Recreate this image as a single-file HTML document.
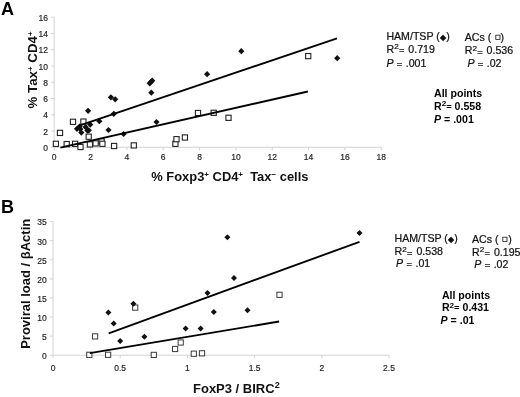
<!DOCTYPE html>
<html><head><meta charset="utf-8"><title>Figure</title>
<style>
html,body{margin:0;padding:0;background:#fff;}
body{width:520px;height:397px;overflow:hidden;}
svg{display:block;}
text{font-family:"Liberation Sans", sans-serif;}
.t{font-size:8.5px;fill:#262626;stroke:#262626;stroke-width:0.18px;}
.ti{font-size:13px;font-weight:bold;fill:#111;}
.sup{font-size:8px;}
.sup2{font-size:9px;}
.tA{font-size:13.3px;}
.tX{font-size:12.9px;}
.pl{font-size:18px;font-weight:bold;fill:#000;}
.lg{font-size:10.6px;fill:#111;stroke:#111;stroke-width:0.22px;}
.sym{font-size:8px;}
.sym2{font-size:6.6px;stroke:#333;stroke-width:0.35px;}
.lb{font-size:10.6px;font-weight:bold;fill:#000;}
.s2{font-size:8.1px;}
.eq{font-size:9.4px;}
</style></head>
<body>
<svg width="520" height="397" viewBox="0 0 520 397">
<rect width="520" height="397" fill="#fff"/>
<line x1="54.2" y1="17.2" x2="54.2" y2="147.3" stroke="#d2d2d2" stroke-width="1"/>
<line x1="54.2" y1="147.3" x2="381.3" y2="147.3" stroke="#d2d2d2" stroke-width="1"/>
<line x1="51.2" y1="147.3" x2="54.2" y2="147.3" stroke="#d2d2d2" stroke-width="1"/>
<text x="47.9" y="150.9" text-anchor="end" class="t">0</text>
<line x1="51.2" y1="131.0" x2="54.2" y2="131.0" stroke="#d2d2d2" stroke-width="1"/>
<text x="47.9" y="134.6" text-anchor="end" class="t">2</text>
<line x1="51.2" y1="114.8" x2="54.2" y2="114.8" stroke="#d2d2d2" stroke-width="1"/>
<text x="47.9" y="118.4" text-anchor="end" class="t">4</text>
<line x1="51.2" y1="98.5" x2="54.2" y2="98.5" stroke="#d2d2d2" stroke-width="1"/>
<text x="47.9" y="102.1" text-anchor="end" class="t">6</text>
<line x1="51.2" y1="82.3" x2="54.2" y2="82.3" stroke="#d2d2d2" stroke-width="1"/>
<text x="47.9" y="85.9" text-anchor="end" class="t">8</text>
<line x1="51.2" y1="66.0" x2="54.2" y2="66.0" stroke="#d2d2d2" stroke-width="1"/>
<text x="47.9" y="69.6" text-anchor="end" class="t">10</text>
<line x1="51.2" y1="49.7" x2="54.2" y2="49.7" stroke="#d2d2d2" stroke-width="1"/>
<text x="47.9" y="53.3" text-anchor="end" class="t">12</text>
<line x1="51.2" y1="33.5" x2="54.2" y2="33.5" stroke="#d2d2d2" stroke-width="1"/>
<text x="47.9" y="37.1" text-anchor="end" class="t">14</text>
<line x1="51.2" y1="17.2" x2="54.2" y2="17.2" stroke="#d2d2d2" stroke-width="1"/>
<text x="47.9" y="20.8" text-anchor="end" class="t">16</text>
<line x1="54.2" y1="147.3" x2="54.2" y2="150.3" stroke="#d2d2d2" stroke-width="1"/>
<text x="54.2" y="160.3" text-anchor="middle" class="t">0</text>
<line x1="90.5" y1="147.3" x2="90.5" y2="150.3" stroke="#d2d2d2" stroke-width="1"/>
<text x="90.5" y="160.3" text-anchor="middle" class="t">2</text>
<line x1="126.9" y1="147.3" x2="126.9" y2="150.3" stroke="#d2d2d2" stroke-width="1"/>
<text x="126.9" y="160.3" text-anchor="middle" class="t">4</text>
<line x1="163.2" y1="147.3" x2="163.2" y2="150.3" stroke="#d2d2d2" stroke-width="1"/>
<text x="163.2" y="160.3" text-anchor="middle" class="t">6</text>
<line x1="199.6" y1="147.3" x2="199.6" y2="150.3" stroke="#d2d2d2" stroke-width="1"/>
<text x="199.6" y="160.3" text-anchor="middle" class="t">8</text>
<line x1="235.9" y1="147.3" x2="235.9" y2="150.3" stroke="#d2d2d2" stroke-width="1"/>
<text x="235.9" y="160.3" text-anchor="middle" class="t">10</text>
<line x1="272.2" y1="147.3" x2="272.2" y2="150.3" stroke="#d2d2d2" stroke-width="1"/>
<text x="272.2" y="160.3" text-anchor="middle" class="t">12</text>
<line x1="308.6" y1="147.3" x2="308.6" y2="150.3" stroke="#d2d2d2" stroke-width="1"/>
<text x="308.6" y="160.3" text-anchor="middle" class="t">14</text>
<line x1="344.9" y1="147.3" x2="344.9" y2="150.3" stroke="#d2d2d2" stroke-width="1"/>
<text x="344.9" y="160.3" text-anchor="middle" class="t">16</text>
<line x1="381.3" y1="147.3" x2="381.3" y2="150.3" stroke="#d2d2d2" stroke-width="1"/>
<text x="381.3" y="160.3" text-anchor="middle" class="t">18</text>
<rect x="53.3" y="141.2" width="5.2" height="5.2" fill="#fff" stroke="#222" stroke-width="1.1"/>
<rect x="57.4" y="130.3" width="5.2" height="5.2" fill="#fff" stroke="#222" stroke-width="1.1"/>
<rect x="64.1" y="141.5" width="5.2" height="5.2" fill="#fff" stroke="#222" stroke-width="1.1"/>
<rect x="70.4" y="119.2" width="5.2" height="5.2" fill="#fff" stroke="#222" stroke-width="1.1"/>
<rect x="72.5" y="141.2" width="5.2" height="5.2" fill="#fff" stroke="#222" stroke-width="1.1"/>
<rect x="77.9" y="144.4" width="5.2" height="5.2" fill="#fff" stroke="#222" stroke-width="1.1"/>
<rect x="80.8" y="119.0" width="5.2" height="5.2" fill="#fff" stroke="#222" stroke-width="1.1"/>
<rect x="86.1" y="134.1" width="5.2" height="5.2" fill="#fff" stroke="#222" stroke-width="1.1"/>
<rect x="87.3" y="141.8" width="5.2" height="5.2" fill="#fff" stroke="#222" stroke-width="1.1"/>
<rect x="93.0" y="140.8" width="5.2" height="5.2" fill="#fff" stroke="#222" stroke-width="1.1"/>
<rect x="99.0" y="138.8" width="5.2" height="5.2" fill="#fff" stroke="#222" stroke-width="1.1"/>
<rect x="99.8" y="141.2" width="5.2" height="5.2" fill="#fff" stroke="#222" stroke-width="1.1"/>
<rect x="111.5" y="143.4" width="5.2" height="5.2" fill="#fff" stroke="#222" stroke-width="1.1"/>
<rect x="131.2" y="142.8" width="5.2" height="5.2" fill="#fff" stroke="#222" stroke-width="1.1"/>
<rect x="172.8" y="141.2" width="5.2" height="5.2" fill="#fff" stroke="#222" stroke-width="1.1"/>
<rect x="173.9" y="136.6" width="5.2" height="5.2" fill="#fff" stroke="#222" stroke-width="1.1"/>
<rect x="182.3" y="134.9" width="5.2" height="5.2" fill="#fff" stroke="#222" stroke-width="1.1"/>
<rect x="195.4" y="110.4" width="5.2" height="5.2" fill="#fff" stroke="#222" stroke-width="1.1"/>
<rect x="211.1" y="110.2" width="5.2" height="5.2" fill="#fff" stroke="#222" stroke-width="1.1"/>
<rect x="225.9" y="115.2" width="5.2" height="5.2" fill="#fff" stroke="#222" stroke-width="1.1"/>
<rect x="305.6" y="53.5" width="5.2" height="5.2" fill="#fff" stroke="#222" stroke-width="1.1"/>
<path d="M77.0 125.7L80.1 128.8L77.0 131.9L73.9 128.8Z" fill="#111"/>
<path d="M79.6 123.5L82.7 126.6L79.6 129.7L76.5 126.6Z" fill="#111"/>
<path d="M80.3 126.0L83.4 129.1L80.3 132.2L77.2 129.1Z" fill="#111"/>
<path d="M81.3 129.5L84.4 132.6L81.3 135.7L78.2 132.6Z" fill="#111"/>
<path d="M85.6 124.0L88.7 127.1L85.6 130.2L82.5 127.1Z" fill="#111"/>
<path d="M87.4 127.5L90.5 130.6L87.4 133.7L84.3 130.6Z" fill="#111"/>
<path d="M90.2 121.5L93.3 124.6L90.2 127.7L87.1 124.6Z" fill="#111"/>
<path d="M88.8 127.2L91.9 130.3L88.8 133.4L85.7 130.3Z" fill="#111"/>
<path d="M88.1 107.7L91.2 110.8L88.1 113.9L85.0 110.8Z" fill="#111"/>
<path d="M99.3 118.1L102.4 121.2L99.3 124.3L96.2 121.2Z" fill="#111"/>
<path d="M108.5 126.9L111.6 130.0L108.5 133.1L105.4 130.0Z" fill="#111"/>
<path d="M110.9 94.2L114.0 97.3L110.9 100.4L107.8 97.3Z" fill="#111"/>
<path d="M115.2 96.2L118.3 99.3L115.2 102.4L112.1 99.3Z" fill="#111"/>
<path d="M113.8 110.7L116.9 113.8L113.8 116.9L110.7 113.8Z" fill="#111"/>
<path d="M123.6 130.9L126.7 134.0L123.6 137.1L120.5 134.0Z" fill="#111"/>
<path d="M149.7 80.2L152.8 83.3L149.7 86.4L146.6 83.3Z" fill="#111"/>
<path d="M150.9 78.9L154.0 82.0L150.9 85.1L147.8 82.0Z" fill="#111"/>
<path d="M152.2 77.6L155.3 80.7L152.2 83.8L149.1 80.7Z" fill="#111"/>
<path d="M151.3 89.6L154.4 92.7L151.3 95.8L148.2 92.7Z" fill="#111"/>
<path d="M156.5 118.9L159.6 122.0L156.5 125.1L153.4 122.0Z" fill="#111"/>
<path d="M207.1 71.1L210.2 74.2L207.1 77.3L204.0 74.2Z" fill="#111"/>
<path d="M241.3 48.1L244.4 51.2L241.3 54.3L238.2 51.2Z" fill="#111"/>
<path d="M337.2 55.1L340.3 58.2L337.2 61.3L334.1 58.2Z" fill="#111"/>
<line x1="60.4" y1="147.7" x2="307.9" y2="91.5" stroke="#000" stroke-width="1.85"/>
<line x1="78.5" y1="125.9" x2="337" y2="38.3" stroke="#000" stroke-width="1.85"/>
<text x="151.3" y="180.9" class="ti tX">% Foxp3<tspan class="sup" dy="-4.2">+</tspan><tspan dy="4.2"> CD4</tspan><tspan class="sup" dy="-4.2">+</tspan><tspan x="250.2" dy="4.2">Tax</tspan><tspan class="sup" dy="-4.2">−</tspan><tspan dy="4.2"> cells</tspan></text>
<text transform="translate(37.0 108.5) rotate(-90)" x="0" y="0" class="ti tA">% Tax<tspan class="sup" dy="-4.2">+</tspan><tspan dy="4.2"> CD4</tspan><tspan class="sup" dy="-4.2">+</tspan></text>
<line x1="53.0" y1="221.6" x2="53.0" y2="355.2" stroke="#d2d2d2" stroke-width="1"/>
<line x1="53.0" y1="355.2" x2="389.0" y2="355.2" stroke="#d2d2d2" stroke-width="1"/>
<line x1="50.0" y1="355.2" x2="53.0" y2="355.2" stroke="#d2d2d2" stroke-width="1"/>
<text x="46.8" y="359.0" text-anchor="end" class="t">0</text>
<line x1="50.0" y1="336.1" x2="53.0" y2="336.1" stroke="#d2d2d2" stroke-width="1"/>
<text x="46.8" y="339.9" text-anchor="end" class="t">5</text>
<line x1="50.0" y1="317.0" x2="53.0" y2="317.0" stroke="#d2d2d2" stroke-width="1"/>
<text x="46.8" y="320.8" text-anchor="end" class="t">10</text>
<line x1="50.0" y1="297.9" x2="53.0" y2="297.9" stroke="#d2d2d2" stroke-width="1"/>
<text x="46.8" y="301.7" text-anchor="end" class="t">15</text>
<line x1="50.0" y1="278.9" x2="53.0" y2="278.9" stroke="#d2d2d2" stroke-width="1"/>
<text x="46.8" y="282.7" text-anchor="end" class="t">20</text>
<line x1="50.0" y1="259.8" x2="53.0" y2="259.8" stroke="#d2d2d2" stroke-width="1"/>
<text x="46.8" y="263.6" text-anchor="end" class="t">25</text>
<line x1="50.0" y1="240.7" x2="53.0" y2="240.7" stroke="#d2d2d2" stroke-width="1"/>
<text x="46.8" y="244.5" text-anchor="end" class="t">30</text>
<line x1="50.0" y1="221.6" x2="53.0" y2="221.6" stroke="#d2d2d2" stroke-width="1"/>
<text x="46.8" y="225.4" text-anchor="end" class="t">35</text>
<line x1="53.0" y1="355.2" x2="53.0" y2="358.2" stroke="#d2d2d2" stroke-width="1"/>
<text x="53.0" y="370.7" text-anchor="middle" class="t">0</text>
<line x1="120.2" y1="355.2" x2="120.2" y2="358.2" stroke="#d2d2d2" stroke-width="1"/>
<text x="120.2" y="370.7" text-anchor="middle" class="t">0.5</text>
<line x1="187.4" y1="355.2" x2="187.4" y2="358.2" stroke="#d2d2d2" stroke-width="1"/>
<text x="187.4" y="370.7" text-anchor="middle" class="t">1</text>
<line x1="254.6" y1="355.2" x2="254.6" y2="358.2" stroke="#d2d2d2" stroke-width="1"/>
<text x="254.6" y="370.7" text-anchor="middle" class="t">1.5</text>
<line x1="321.8" y1="355.2" x2="321.8" y2="358.2" stroke="#d2d2d2" stroke-width="1"/>
<text x="321.8" y="370.7" text-anchor="middle" class="t">2</text>
<line x1="389.0" y1="355.2" x2="389.0" y2="358.2" stroke="#d2d2d2" stroke-width="1"/>
<text x="389.0" y="370.7" text-anchor="middle" class="t">2.5</text>
<rect x="86.7" y="352.2" width="5.2" height="5.2" fill="#fff" stroke="#3a3a3a" stroke-width="1.0"/>
<rect x="92.5" y="333.8" width="5.2" height="5.2" fill="#fff" stroke="#3a3a3a" stroke-width="1.0"/>
<rect x="105.5" y="352.2" width="5.2" height="5.2" fill="#fff" stroke="#3a3a3a" stroke-width="1.0"/>
<rect x="132.6" y="305.0" width="5.2" height="5.2" fill="#fff" stroke="#3a3a3a" stroke-width="1.0"/>
<rect x="151.2" y="352.3" width="5.2" height="5.2" fill="#fff" stroke="#3a3a3a" stroke-width="1.0"/>
<rect x="172.5" y="346.4" width="5.2" height="5.2" fill="#fff" stroke="#3a3a3a" stroke-width="1.0"/>
<rect x="178.1" y="339.9" width="5.2" height="5.2" fill="#fff" stroke="#3a3a3a" stroke-width="1.0"/>
<rect x="191.2" y="351.1" width="5.2" height="5.2" fill="#fff" stroke="#3a3a3a" stroke-width="1.0"/>
<rect x="199.4" y="350.7" width="5.2" height="5.2" fill="#fff" stroke="#3a3a3a" stroke-width="1.0"/>
<rect x="276.9" y="292.2" width="5.2" height="5.2" fill="#fff" stroke="#3a3a3a" stroke-width="1.0"/>
<path d="M108.4 309.6L111.4 312.6L108.4 315.6L105.4 312.6Z" fill="#111"/>
<path d="M113.7 320.4L116.7 323.4L113.7 326.4L110.7 323.4Z" fill="#111"/>
<path d="M120.2 338.1L123.2 341.1L120.2 344.1L117.2 341.1Z" fill="#111"/>
<path d="M133.4 300.7L136.4 303.7L133.4 306.7L130.4 303.7Z" fill="#111"/>
<path d="M144.4 333.7L147.4 336.7L144.4 339.7L141.4 336.7Z" fill="#111"/>
<path d="M185.6 325.4L188.6 328.4L185.6 331.4L182.6 328.4Z" fill="#111"/>
<path d="M200.6 325.4L203.6 328.4L200.6 331.4L197.6 328.4Z" fill="#111"/>
<path d="M207.5 290.1L210.5 293.1L207.5 296.1L204.5 293.1Z" fill="#111"/>
<path d="M213.8 308.9L216.8 311.9L213.8 314.9L210.8 311.9Z" fill="#111"/>
<path d="M227.4 234.3L230.4 237.3L227.4 240.3L224.4 237.3Z" fill="#111"/>
<path d="M234.0 274.9L237.0 277.9L234.0 280.9L231.0 277.9Z" fill="#111"/>
<path d="M247.5 307.2L250.5 310.2L247.5 313.2L244.5 310.2Z" fill="#111"/>
<path d="M359.5 230.1L362.5 233.1L359.5 236.1L356.5 233.1Z" fill="#111"/>
<line x1="89.8" y1="353.2" x2="279.1" y2="321.5" stroke="#000" stroke-width="1.85"/>
<line x1="108.7" y1="333.3" x2="359.5" y2="241.8" stroke="#000" stroke-width="1.85"/>
<text x="193.0" y="393.4" class="ti">FoxP3 / BIRC<tspan class="sup2" dy="-5.3">2</tspan></text>
<text transform="translate(30.2 348.8) rotate(-90)" x="0" y="0" class="ti">Proviral load / βActin</text>
<text x="0.9" y="15.1" class="pl">A</text>
<text x="1.0" y="212.7" class="pl">B</text>
<text x="387.0" y="40.1" class="lg" transform="translate(-0.6 0)">HAM/TSP (<tspan x="440.4" dy="-0.6" class="sym">◆</tspan><tspan x="446.8" dy="0.6">)</tspan></text>
<text x="387.0" y="52.9" class="lg" transform="translate(-0.6 0)">R<tspan class="s2" dy="-3.5" dx="0.2">2</tspan><tspan dy="3.7" dx="0.2" class="eq">=</tspan><tspan dy="-0.2" dx="0.9"> </tspan>0.719</text>
<text x="387.0" y="66.6" class="lg" transform="translate(-0.6 0)"><tspan font-style="italic">P</tspan> <tspan class="eq" dy="0.2" dx="0.4">=</tspan><tspan dy="-0.2" dx="0.5"> </tspan>.001</text>
<text x="465.3" y="41.2" class="lg" transform="translate(-0.6 0)">ACs ( <tspan x="496.0" dy="-1.8" class="sym2">◻</tspan><tspan x="501.2" dy="1.8">)</tspan></text>
<text x="465.3" y="54.3" class="lg" transform="translate(-0.6 0)">R<tspan class="s2" dy="-3.5" dx="0.2">2</tspan><tspan dy="3.7" dx="0.2" class="eq">=</tspan><tspan dy="-0.2" dx="0.9"> </tspan>0.536</text>
<text x="468.0" y="67.2" class="lg" transform="translate(-0.6 0)"><tspan font-style="italic">P</tspan> <tspan class="eq" dy="0.2" dx="0.4">=</tspan><tspan dy="-0.2" dx="0.5"> </tspan>.02</text>
<text x="434.0" y="97.2" class="lb">All points</text>
<text x="434.0" y="109.8" class="lb">R<tspan class="s2" dy="-3.4">2</tspan><tspan dy="3.6" class="eq">=</tspan><tspan dy="-0.2"> </tspan>0.558</text>
<text x="434.0" y="122.6" class="lb"><tspan font-style="italic">P</tspan> = .001</text>
<text x="395.1" y="242.4" class="lg" transform="translate(-0.6 0)">HAM/TSP (<tspan x="448.5" dy="-0.6" class="sym">◆</tspan><tspan x="454.9" dy="0.6">)</tspan></text>
<text x="395.1" y="255.3" class="lg" transform="translate(-0.6 0)">R<tspan class="s2" dy="-3.5" dx="0.2">2</tspan><tspan dy="3.7" dx="0.2" class="eq">=</tspan><tspan dy="-0.2" dx="0.9"> </tspan>0.538</text>
<text x="396.7" y="267.2" class="lg" transform="translate(-0.6 0)"><tspan font-style="italic">P</tspan> <tspan class="eq" dy="0.2" dx="0.4">=</tspan><tspan dy="-0.2" dx="0.5"> </tspan>.01</text>
<text x="472.6" y="243.2" class="lg" transform="translate(-0.6 0)">ACs ( <tspan x="502.4" dy="-2.3" class="sym2">◻</tspan><tspan x="508.9" dy="2.3">)</tspan></text>
<text x="472.6" y="255.5" class="lg" transform="translate(-0.6 0)">R<tspan class="s2" dy="-3.5" dx="0.2">2</tspan><tspan dy="3.7" dx="0.2" class="eq">=</tspan><tspan dy="-0.2" dx="0.9"> </tspan>0.195</text>
<text x="474.9" y="267.6" class="lg" transform="translate(-0.6 0)"><tspan font-style="italic">P</tspan> <tspan class="eq" dy="0.2" dx="0.4">=</tspan><tspan dy="-0.2" dx="0.5"> </tspan>.02</text>
<text x="441.9" y="298.9" class="lb">All points</text>
<text x="441.9" y="311.1" class="lb">R<tspan class="s2" dy="-3.4">2</tspan><tspan dy="3.6" class="eq">=</tspan><tspan dy="-0.2"> </tspan>0.431</text>
<text x="440.6" y="324.4" class="lb"><tspan font-style="italic">P</tspan> = .01</text>
</svg>
</body></html>
